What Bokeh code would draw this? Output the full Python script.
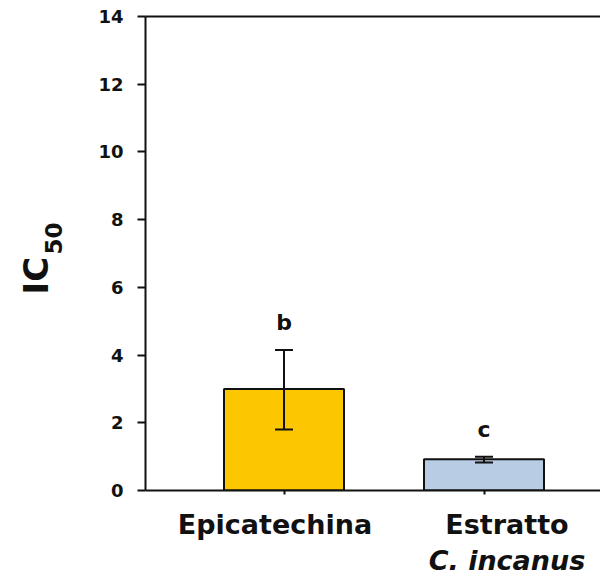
from bokeh.plotting import figure
from bokeh.models import (ColumnDataSource, Range1d, FixedTicker, LinearAxis, Whisker,
                          TeeHead, LabelSet, Title)
from bokeh.core.properties import value
from bokeh.embed import file_html
from bokeh.resources import INLINE

# ---- data ----
categories = ["Epicatechina", "Estratto"]
category_subtitles = ["C. incanus"]
ic50_mean = [3.0, 0.92]
ic50_err_low = [1.80, 0.83]
ic50_err_high = [4.15, 1.00]
sig_letters = ["b", "c"]
bar_colors = ["#FCC700", "#B8CCE4"]
y_ticks = [0, 2, 4, 6, 8, 10, 12, 14]

xpos = [i + 1 for i in range(len(categories))]
src = ColumnDataSource(dict(x=xpos, top=ic50_mean, lower=ic50_err_low, upper=ic50_err_high,
                            letter=sig_letters, color=bar_colors))

FONT = "DejaVu Sans"
INK = "#111111"
PX = 200.0  # pixels per category unit

p = figure(width=600, height=582, output_backend="svg", toolbar_location=None,
           x_range=Range1d(0.3075, 0.3075 + 455 / PX), y_range=Range1d(0, 14),
           x_axis_type=None, y_axis_type=None,
           min_border_left=145, min_border_right=0, min_border_top=16, min_border_bottom=92)
p.outline_line_color = None
p.xgrid.visible = False
p.ygrid.visible = False
p.background_fill_color = "white"
p.border_fill_color = "white"

# y axis
yax = LinearAxis(ticker=FixedTicker(ticks=y_ticks))
yax.axis_line_width = 2
yax.axis_line_color = INK
yax.major_tick_line_width = 2
yax.major_tick_line_color = INK
yax.major_tick_out = 8
yax.major_tick_in = 0
yax.minor_tick_line_color = None
yax.major_label_text_font = FONT
yax.major_label_text_font_style = "bold"
yax.major_label_text_font_size = "18px"
yax.major_label_text_color = INK
yax.major_label_standoff = 14
p.add_layout(yax, "left")

# y title: IC with subscript 50 (two stacked titles)
t50 = Title(text="50", align="left", offset=236, standoff=67,
            text_font=FONT, text_font_style="bold", text_font_size="23px", text_color=INK)
p.add_layout(t50, "left")
tic = Title(text="IC", align="left", offset=196, standoff=-92,
            text_font=FONT, text_font_style="bold", text_font_size="34px", text_color=INK)
p.add_layout(tic, "left")

# x axis (line + ticks)
xax = LinearAxis(ticker=FixedTicker(ticks=xpos))
xax.axis_line_width = 2
xax.axis_line_color = INK
xax.major_tick_line_width = 2
xax.major_tick_line_color = INK
xax.major_tick_out = 4
xax.major_tick_in = 0
xax.minor_tick_line_color = None
xax.major_label_text_font_size = "0px"
xax.major_label_standoff = 0
xax.major_label_overrides = {x: "" for x in xpos}
p.add_layout(xax, "below")

# category label axes (text only, slightly off-centre as in the original)
label_shift = [-9 / PX, 23 / PX]
lab_pos = [xpos[i] + label_shift[i] for i in range(len(categories))]
lab_ax = LinearAxis(ticker=FixedTicker(ticks=lab_pos))
lab_ax.axis_line_color = None
lab_ax.major_tick_line_color = None
lab_ax.minor_tick_line_color = None
lab_ax.major_tick_out = 0
lab_ax.major_tick_in = 0
lab_ax.major_label_standoff = 14
lab_ax.major_label_overrides = {lab_pos[i]: categories[i] for i in range(len(categories))}
lab_ax.major_label_text_font = FONT
lab_ax.major_label_text_font_style = "bold"
lab_ax.major_label_text_font_size = "27px"
lab_ax.major_label_text_color = INK
p.add_layout(lab_ax, "below")

sub_pos = [lab_pos[1]]
sub_ax = LinearAxis(ticker=FixedTicker(ticks=sub_pos))
sub_ax.axis_line_color = None
sub_ax.major_tick_line_color = None
sub_ax.minor_tick_line_color = None
sub_ax.major_tick_out = 0
sub_ax.major_tick_in = 0
sub_ax.major_label_standoff = 2
sub_ax.major_label_overrides = {sub_pos[0]: category_subtitles[0]}
sub_ax.major_label_text_font = FONT
sub_ax.major_label_text_font_style = "bold italic"
sub_ax.major_label_text_font_size = "27px"
sub_ax.major_label_text_color = INK
p.add_layout(sub_ax, "below")

# top frame line
top_ax = LinearAxis(ticker=FixedTicker(ticks=[]))
top_ax.axis_line_width = 2
top_ax.axis_line_color = INK
top_ax.major_tick_line_color = None
top_ax.minor_tick_line_color = None
top_ax.major_label_text_font_size = "0px"
p.add_layout(top_ax, "above")

# bars
p.vbar(x="x", top="top", width=0.6, bottom=0, source=src, fill_color="color",
       line_color=INK, line_width=2)

# error bars
w = Whisker(base="x", upper="upper", lower="lower", source=src, level="overlay",
            line_color=INK, line_width=2,
            upper_head=TeeHead(size=18, line_width=2, line_color=INK),
            lower_head=TeeHead(size=18, line_width=2, line_color=INK))
p.add_layout(w)

# significance letters
letters = LabelSet(x="x", y="upper", text="letter", source=src, y_offset=20,
                   text_align="center", text_baseline="alphabetic",
                   text_font=value(FONT), text_font_style=value("bold"),
                   text_font_size=value("22px"), text_color=value(INK))
p.add_layout(letters)

open("out.html", "w").write(file_html(p, INLINE))
